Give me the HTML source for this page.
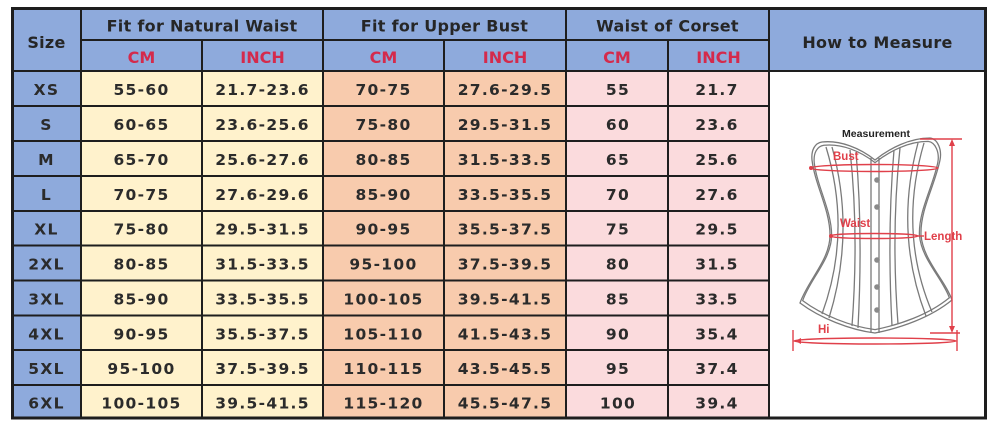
<!DOCTYPE html>
<html><head><meta charset="utf-8"><style>
html,body{margin:0;padding:0;background:#fff;width:1000px;height:427px;overflow:hidden}
svg{display:block}
.h{font-family:"DejaVu Sans","Liberation Sans",sans-serif;font-weight:bold;font-size:16px;fill:#262626;letter-spacing:0.3px}
.r{font-family:"DejaVu Sans","Liberation Sans",sans-serif;font-weight:bold;font-size:16px;fill:#d42a4c}
.d{font-family:"DejaVu Sans","Liberation Sans",sans-serif;font-weight:bold;font-size:15.5px;fill:#2b2b2b;letter-spacing:1.3px}
.rl{font-family:"Liberation Sans",sans-serif;font-size:11.5px;font-weight:bold;fill:#e0404a}
</style></head><body>
<svg width="1000" height="427" viewBox="0 0 1000 427" xmlns="http://www.w3.org/2000/svg">
<rect x="0" y="0" width="1000" height="427" fill="#fff"/>
<rect x="12" y="9" width="974" height="62" fill="#8eaadc"/>
<rect x="12" y="71" width="69" height="348" fill="#8eaadc"/>
<rect x="81" y="71" width="242" height="348" fill="#fff2cc"/>
<rect x="323" y="71" width="243" height="348" fill="#f8cbad"/>
<rect x="566" y="71" width="203" height="348" fill="#fbdbdd"/>
<rect x="769" y="71" width="217" height="348" fill="#ffffff"/>
<g stroke="#1e1e1e" stroke-width="2" fill="none">
<line x1="81" y1="9" x2="81" y2="419"/>
<line x1="202" y1="40" x2="202" y2="419"/>
<line x1="323" y1="9" x2="323" y2="419"/>
<line x1="444" y1="40" x2="444" y2="419"/>
<line x1="566" y1="9" x2="566" y2="419"/>
<line x1="668" y1="40" x2="668" y2="419"/>
<line x1="769" y1="9" x2="769" y2="419"/>
<line x1="81" y1="40" x2="769" y2="40"/>
<line x1="12" y1="71" x2="986" y2="71"/>
<line x1="12" y1="106" x2="769" y2="106"/>
<line x1="12" y1="141" x2="769" y2="141"/>
<line x1="12" y1="176" x2="769" y2="176"/>
<line x1="12" y1="211" x2="769" y2="211"/>
<line x1="12" y1="245.5" x2="769" y2="245.5"/>
<line x1="12" y1="280.5" x2="769" y2="280.5"/>
<line x1="12" y1="315.5" x2="769" y2="315.5"/>
<line x1="12" y1="350" x2="769" y2="350"/>
<line x1="12" y1="385" x2="769" y2="385"/>
</g>
<rect x="12.5" y="8.5" width="973" height="409.5" fill="none" stroke="#1e1e1e" stroke-width="3"/>
<text class="h" x="46.5" y="48" text-anchor="middle">Size</text>
<text class="h" x="202" y="31.5" text-anchor="middle">Fit for Natural Waist</text>
<text class="h" x="444.5" y="31.5" text-anchor="middle">Fit for Upper Bust</text>
<text class="h" x="667.5" y="31.5" text-anchor="middle">Waist of Corset</text>
<text class="h" x="877.5" y="48" text-anchor="middle">How to Measure</text>
<text class="r" x="141.5" y="63" text-anchor="middle">CM</text>
<text class="r" x="262.5" y="63" text-anchor="middle">INCH</text>
<text class="r" x="383.5" y="63" text-anchor="middle">CM</text>
<text class="r" x="505" y="63" text-anchor="middle">INCH</text>
<text class="r" x="617" y="63" text-anchor="middle">CM</text>
<text class="r" x="718.5" y="63" text-anchor="middle">INCH</text>
<g class="d" text-anchor="middle">
<text x="46.5" y="95">XS</text><text x="141.5" y="95">55-60</text><text x="262.5" y="95">21.7-23.6</text><text x="383.5" y="95">70-75</text><text x="505" y="95">27.6-29.5</text><text x="618" y="95">55</text><text x="717" y="95">21.7</text>
<text x="46.5" y="130">S</text><text x="141.5" y="130">60-65</text><text x="262.5" y="130">23.6-25.6</text><text x="383.5" y="130">75-80</text><text x="505" y="130">29.5-31.5</text><text x="618" y="130">60</text><text x="717" y="130">23.6</text>
<text x="46.5" y="165">M</text><text x="141.5" y="165">65-70</text><text x="262.5" y="165">25.6-27.6</text><text x="383.5" y="165">80-85</text><text x="505" y="165">31.5-33.5</text><text x="618" y="165">65</text><text x="717" y="165">25.6</text>
<text x="46.5" y="200">L</text><text x="141.5" y="200">70-75</text><text x="262.5" y="200">27.6-29.6</text><text x="383.5" y="200">85-90</text><text x="505" y="200">33.5-35.5</text><text x="618" y="200">70</text><text x="717" y="200">27.6</text>
<text x="46.5" y="234.5">XL</text><text x="141.5" y="234.5">75-80</text><text x="262.5" y="234.5">29.5-31.5</text><text x="383.5" y="234.5">90-95</text><text x="505" y="234.5">35.5-37.5</text><text x="618" y="234.5">75</text><text x="717" y="234.5">29.5</text>
<text x="46.5" y="269.5">2XL</text><text x="141.5" y="269.5">80-85</text><text x="262.5" y="269.5">31.5-33.5</text><text x="383.5" y="269.5">95-100</text><text x="505" y="269.5">37.5-39.5</text><text x="618" y="269.5">80</text><text x="717" y="269.5">31.5</text>
<text x="46.5" y="304.5">3XL</text><text x="141.5" y="304.5">85-90</text><text x="262.5" y="304.5">33.5-35.5</text><text x="383.5" y="304.5">100-105</text><text x="505" y="304.5">39.5-41.5</text><text x="618" y="304.5">85</text><text x="717" y="304.5">33.5</text>
<text x="46.5" y="339.5">4XL</text><text x="141.5" y="339.5">90-95</text><text x="262.5" y="339.5">35.5-37.5</text><text x="383.5" y="339.5">105-110</text><text x="505" y="339.5">41.5-43.5</text><text x="618" y="339.5">90</text><text x="717" y="339.5">35.4</text>
<text x="46.5" y="374">5XL</text><text x="141.5" y="374">95-100</text><text x="262.5" y="374">37.5-39.5</text><text x="383.5" y="374">110-115</text><text x="505" y="374">43.5-45.5</text><text x="618" y="374">95</text><text x="717" y="374">37.4</text>
<text x="46.5" y="408.5">6XL</text><text x="141.5" y="408.5">100-105</text><text x="262.5" y="408.5">39.5-41.5</text><text x="383.5" y="408.5">115-120</text><text x="505" y="408.5">45.5-47.5</text><text x="618" y="408.5">100</text><text x="717" y="408.5">39.4</text>
</g>
<text x="876" y="137" text-anchor="middle" font-family="Liberation Sans, sans-serif" font-size="10" font-weight="bold" fill="#222" textLength="68" lengthAdjust="spacingAndGlyphs">Measurement</text>
<g fill="none" stroke="#7a7a7a" stroke-width="1.3">
<path d="M812,160 C811,150 815,143 822,142 C840,140 860,148 875,160 C890,148 910,138 930,138 C938,139 942,150 940,160 C935,185 920,210 921,235 C923,260 945,280 952,300 C930,318 900,328 875,333 C850,330 820,318 800,303 C808,280 830,260 830,235 C830,210 815,185 812,160 Z"/>
<path transform="translate(876 236) scale(0.965) translate(-876 -236)" d="M812,160 C811,150 815,143 822,142 C840,140 860,148 875,160 C890,148 910,138 930,138 C938,139 942,150 940,160 C935,185 920,210 921,235 C923,260 945,280 952,300 C930,318 900,328 875,333 C850,330 820,318 800,303 C808,280 830,260 830,235 C830,210 815,185 812,160 Z"/>
<path d="M826,147 Q852,232 822,314"/>
<path d="M832,147 Q855.5,232 829,318"/>
<path d="M850,150 Q859,232 852,326"/>
<path d="M856,152 Q863,232 858,328"/>
<path d="M871,158 L871,333"/>
<path d="M879,158 L879,333"/>
<path d="M894,150 Q887,232 892,326"/>
<path d="M900,148 Q891,232 898,324"/>
<path d="M918,143 Q894,232 926,316"/>
<path d="M924,143 Q898,232 932,312"/>
</g>
<g fill="#8a8a8a">
<circle cx="877" cy="180" r="2.8"/><circle cx="877" cy="207" r="2.8"/><circle cx="877" cy="260" r="2.8"/><circle cx="877" cy="287" r="2.8"/><circle cx="877" cy="310" r="2.8"/>
</g>
<g fill="none" stroke="#e0404a" stroke-width="1.4">
<ellipse cx="874" cy="168" rx="64" ry="3.5"/>
<ellipse cx="874" cy="236" rx="44" ry="2.5"/>
<line x1="918" y1="236" x2="924" y2="236"/>
<line x1="952" y1="141" x2="952" y2="331"/>
<line x1="920" y1="139" x2="962" y2="139"/>
<line x1="930" y1="333" x2="960" y2="333"/>
<ellipse cx="875" cy="341" rx="81" ry="3"/>
<line x1="793" y1="330" x2="793" y2="351"/>
<line x1="957" y1="330" x2="957" y2="351"/>
</g>
<g fill="#e0404a">
<circle cx="811" cy="168" r="2"/>
<circle cx="831" cy="236" r="2"/>
<path d="M952,139 L949,146 L955,146 Z"/>
<path d="M952,333 L949,326 L955,326 Z"/>
<path d="M795,341 L801,338 L801,344 Z"/>
</g>
<text class="rl" x="833" y="160">Bust</text>
<text class="rl" x="840" y="227">Waist</text>
<text class="rl" x="924" y="240">Length</text>
<text class="rl" x="818" y="333">Hi</text>
</svg>
</body></html>
